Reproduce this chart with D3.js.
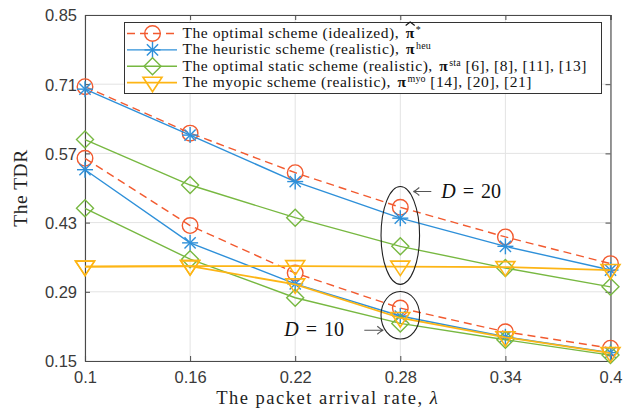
<!DOCTYPE html>
<html><head><meta charset="utf-8">
<script src="https://cdn.jsdelivr.net/npm/d3@7/dist/d3.min.js"></script>
<style>body{margin:0;background:#fff}svg{display:block}</style>
</head><body>
<svg id="c" width="624" height="410"></svg>
<script>
const lambda = [0.1, 0.16, 0.22, 0.28, 0.34, 0.4];
const xTickLabels = ["0.1", "0.16", "0.22", "0.28", "0.34", "0.4"];
const yTicks = [0.15, 0.29, 0.43, 0.57, 0.71, 0.85];
const yTickLabels = ["0.15", "0.29", "0.43", "0.57", "0.71", "0.85"];
// D = 20
const opt20 = [0.705, 0.611, 0.531, 0.461, 0.401, 0.347];
const heu20 = [0.700, 0.607, 0.513, 0.439, 0.382, 0.334];
const sta20 = [0.598, 0.506, 0.440, 0.382, 0.338, 0.300];
const myo20 = [0.341, 0.342, 0.342, 0.341, 0.340, 0.334];
// D = 10
const opt10 = [0.560, 0.424, 0.328, 0.257, 0.209, 0.176];
const heu10 = [0.537, 0.389, 0.306, 0.241, 0.199, 0.167];
const sta10 = [0.459, 0.356, 0.278, 0.226, 0.193, 0.162];
const myo10 = [0.341, 0.342, 0.305, 0.237, 0.198, 0.166];

const seriesNames = ["opt", "heu", "sta", "myo"];
const colors = {opt: "#F25A2F", heu: "#2E90D9", sta: "#77B841", myo: "#FDB515"};

const svg = d3.select("#c");
const L = 85, R = 610.5, T = 15, B = 361;
const x = d3.scaleLinear().domain([0.1, 0.4]).range([L, R]);
const y = d3.scaleLinear().domain([0.15, 0.85]).range([B, T]);

// grid
const g = svg.append("g");
g.selectAll(".gx").data(lambda).join("line")
  .attr("x1", d => x(d)).attr("x2", d => x(d)).attr("y1", T).attr("y2", B)
  .attr("stroke", "#e3e3e3").attr("stroke-width", 1);
g.selectAll(".gy").data(yTicks).join("line")
  .attr("x1", L).attr("x2", R).attr("y1", d => y(d)).attr("y2", d => y(d))
  .attr("stroke", "#e3e3e3").attr("stroke-width", 1);

// axes
const axCol = "#4a4a4a";
const xa = svg.append("g").attr("transform", `translate(0,${B})`)
  .call(d3.axisBottom(x).tickValues(lambda).tickFormat((d, i) => xTickLabels[i]).tickSize(-5).tickPadding(10));
const xt = svg.append("g").attr("transform", `translate(0,${T})`)
  .call(d3.axisTop(x).tickValues(lambda).tickFormat("").tickSize(-5));
const ya = svg.append("g").attr("transform", `translate(${L},0)`)
  .call(d3.axisLeft(y).tickValues(yTicks).tickFormat((d, i) => yTickLabels[i]).tickSize(-5).tickPadding(8));
const yr = svg.append("g").attr("transform", `translate(${R},0)`)
  .call(d3.axisRight(y).tickValues(yTicks).tickFormat("").tickSize(-5));
[xa, xt, ya, yr].forEach(a => {
  a.select(".domain").attr("stroke", axCol).attr("stroke-width", 1.1);
  a.selectAll(".tick line").attr("stroke", axCol);
  a.selectAll(".tick text").attr("font-family", "Liberation Sans, Arial, sans-serif")
    .attr("font-size", 16.5).attr("fill", "#3a3a3a");
});
ya.selectAll(".tick text").attr("dy", "0.36em");

// markers
function marker(sel, type, color) {
  if (type === "opt") {
    sel.append("circle").attr("r", 7.8).attr("fill", "none").attr("stroke", color).attr("stroke-width", 1.4);
  } else if (type === "heu") {
    const r = 8;
    [[-r,0,r,0],[0,-r,0,r],[-r*0.7,-r*0.7,r*0.7,r*0.7],[-r*0.7,r*0.7,r*0.7,-r*0.7]].forEach(p =>
      sel.append("line").attr("x1", p[0]).attr("y1", p[1]).attr("x2", p[2]).attr("y2", p[3])
        .attr("stroke", color).attr("stroke-width", 1.4));
  } else if (type === "sta") {
    sel.append("path").attr("d", "M0,-8.5L8.5,0L0,8.5L-8.5,0Z").attr("fill", "none")
      .attr("stroke", color).attr("stroke-width", 1.4);
  } else {
    sel.append("path").attr("d", "M-9.5,-5.5L9.5,-5.5L0,9Z").attr("fill", "none")
      .attr("stroke", color).attr("stroke-width", 1.6);
  }
}

const line = d3.line().x((d, i) => x(lambda[i])).y(d => y(d));
const dataSets = [
  ["opt", opt20], ["opt", opt10],
  ["heu", heu20], ["heu", heu10],
  ["sta", sta20], ["sta", sta10],
  ["myo", myo20], ["myo", myo10]
];
dataSets.forEach(([type, vals]) => {
  const c = colors[type];
  svg.append("path").datum(vals).attr("d", line).attr("fill", "none")
    .attr("stroke", c).attr("stroke-width", type === "myo" ? 1.8 : 1.4)
    .attr("stroke-dasharray", type === "opt" ? "8,5" : null);
  vals.forEach((v, i) => {
    const m = svg.append("g").attr("transform", `translate(${x(lambda[i])},${y(v)})`);
    marker(m, type, c);
  });
});

// ellipses annotations (data coordinates)
const ell = [{cx: 0.28, cy: 0.404, rx: 0.0110, ry: 0.099}, {cx: 0.28, cy: 0.2425, rx: 0.0110, ry: 0.048}];
ell.forEach(e => {
  svg.append("ellipse").attr("cx", x(e.cx)).attr("cy", y(e.cy))
    .attr("rx", x(e.cx + e.rx) - x(e.cx)).attr("ry", y(e.cy) - y(e.cy + e.ry))
    .attr("fill", "none").attr("stroke", "#222").attr("stroke-width", 1.1);
});
const serif = "Liberation Serif, Times New Roman, serif";
function arrow(x1, x2, yy) {
  const dir = Math.sign(x2 - x1);
  svg.append("path").attr("d", `M${x1},${yy}L${x2},${yy}M${x2 - dir * 6},${yy - 4}Q${x2 - dir * 2},${yy - 0.5} ${x2},${yy}Q${x2 - dir * 2},${yy + 0.5} ${x2 - dir * 6},${yy + 4}`)
    .attr("fill", "none").attr("stroke", "#555").attr("stroke-width", 1.1);
}
function eqLabel(x0, yb, num) {
  const t = svg.append("text").attr("x", x0).attr("y", yb).attr("font-family", serif)
    .attr("font-size", 20).attr("fill", "#111");
  t.append("tspan").attr("font-style", "italic").text("D");
  t.append("tspan").attr("dx", 7).text("=");
  t.append("tspan").attr("dx", 7).text(num);
}
// D = 20 label, anchored near the D=20 ellipse
const a20x = x(0.28) + 13, a20y = y(0.404 + 0.099) + 5;
arrow(a20x + 18, a20x, a20y);
eqLabel(a20x + 28, a20y + 6, "20");
// D = 10 label
const a10x = x(0.28) - 17, a10y = y(0.2425) + 15;
arrow(a10x - 19, a10x, a10y);
eqLabel(a10x - 99, a10y + 6, "10");

// axis titles
svg.append("text").attr("x", (L + R) / 2 - 20).attr("y", 404).attr("text-anchor", "middle")
  .attr("font-family", serif).attr("font-size", 18.5).attr("letter-spacing", 1.5).attr("fill", "#222")
  .text("The packet arrival rate, ").append("tspan").attr("font-style", "italic").text("\u03bb");
svg.append("text").attr("transform", `translate(27,${(T + B) / 2}) rotate(-90)`).attr("text-anchor", "middle")
  .attr("font-family", serif).attr("font-size", 19.5).attr("letter-spacing", 0.5).attr("fill", "#222").text("The TDR");

// legend
const lg = svg.append("g");
lg.append("rect").attr("x", 124.5).attr("y", 22.5).attr("width", 477).attr("height", 71)
  .attr("fill", "#fff").attr("stroke", "#333").attr("stroke-width", 1);
const legendText = [
  {main: "The optimal scheme (idealized), ", sym: "\u03c0", sup: "*", tail: "", hat: true},
  {main: "The heuristic scheme (realistic), ", sym: "\u03c0", sup: "heu", tail: ""},
  {main: "The optimal static scheme (realistic), ", sym: "\u03c0", sup: "sta", tail: " [6], [8], [11], [13]"},
  {main: "The myopic scheme (realistic), ", sym: "\u03c0", sup: "myo", tail: " [14], [20], [21]"}
];
seriesNames.forEach((s, i) => {
  const yy = 33.5 + i * 16.4;
  const c = colors[s];
  lg.append("line").attr("x1", 127).attr("x2", 177).attr("y1", yy).attr("y2", yy)
    .attr("stroke", c).attr("stroke-width", s === "myo" ? 1.8 : 1.4)
    .attr("stroke-dasharray", s === "opt" ? "8,5" : null);
  const m = lg.append("g").attr("transform", `translate(152.5,${yy})`);
  marker(m, s, c);
  const t = lg.append("text").attr("x", 182.5).attr("y", yy + 4.5).attr("font-family", serif)
    .attr("font-size", 15.5).attr("letter-spacing", 0.55).attr("fill", "#111");
  const lt = legendText[i];
  t.append("tspan").text(lt.main);
  t.append("tspan").attr("font-weight", "bold").attr("dx", 2).text(lt.sym);
  t.append("tspan").attr("font-size", 10).attr("dy", -5).attr("dx", 1).attr("letter-spacing", 0.2).text(lt.sup);
  t.append("tspan").attr("dy", 5).text(lt.tail);
  if (lt.hat) {
    const n = t.node();
    const idx = lt.main.length;
    const p = n.getStartPositionOfChar(idx);
    const w = n.getExtentOfChar(idx).width;
    lg.append("path").attr("d", `M${p.x},${yy - 8}L${p.x + w / 2},${yy - 11.5}L${p.x + w},${yy - 8}`)
      .attr("fill", "none").attr("stroke", "#111").attr("stroke-width", 1.1);
  }
});
</script>
</body></html>
